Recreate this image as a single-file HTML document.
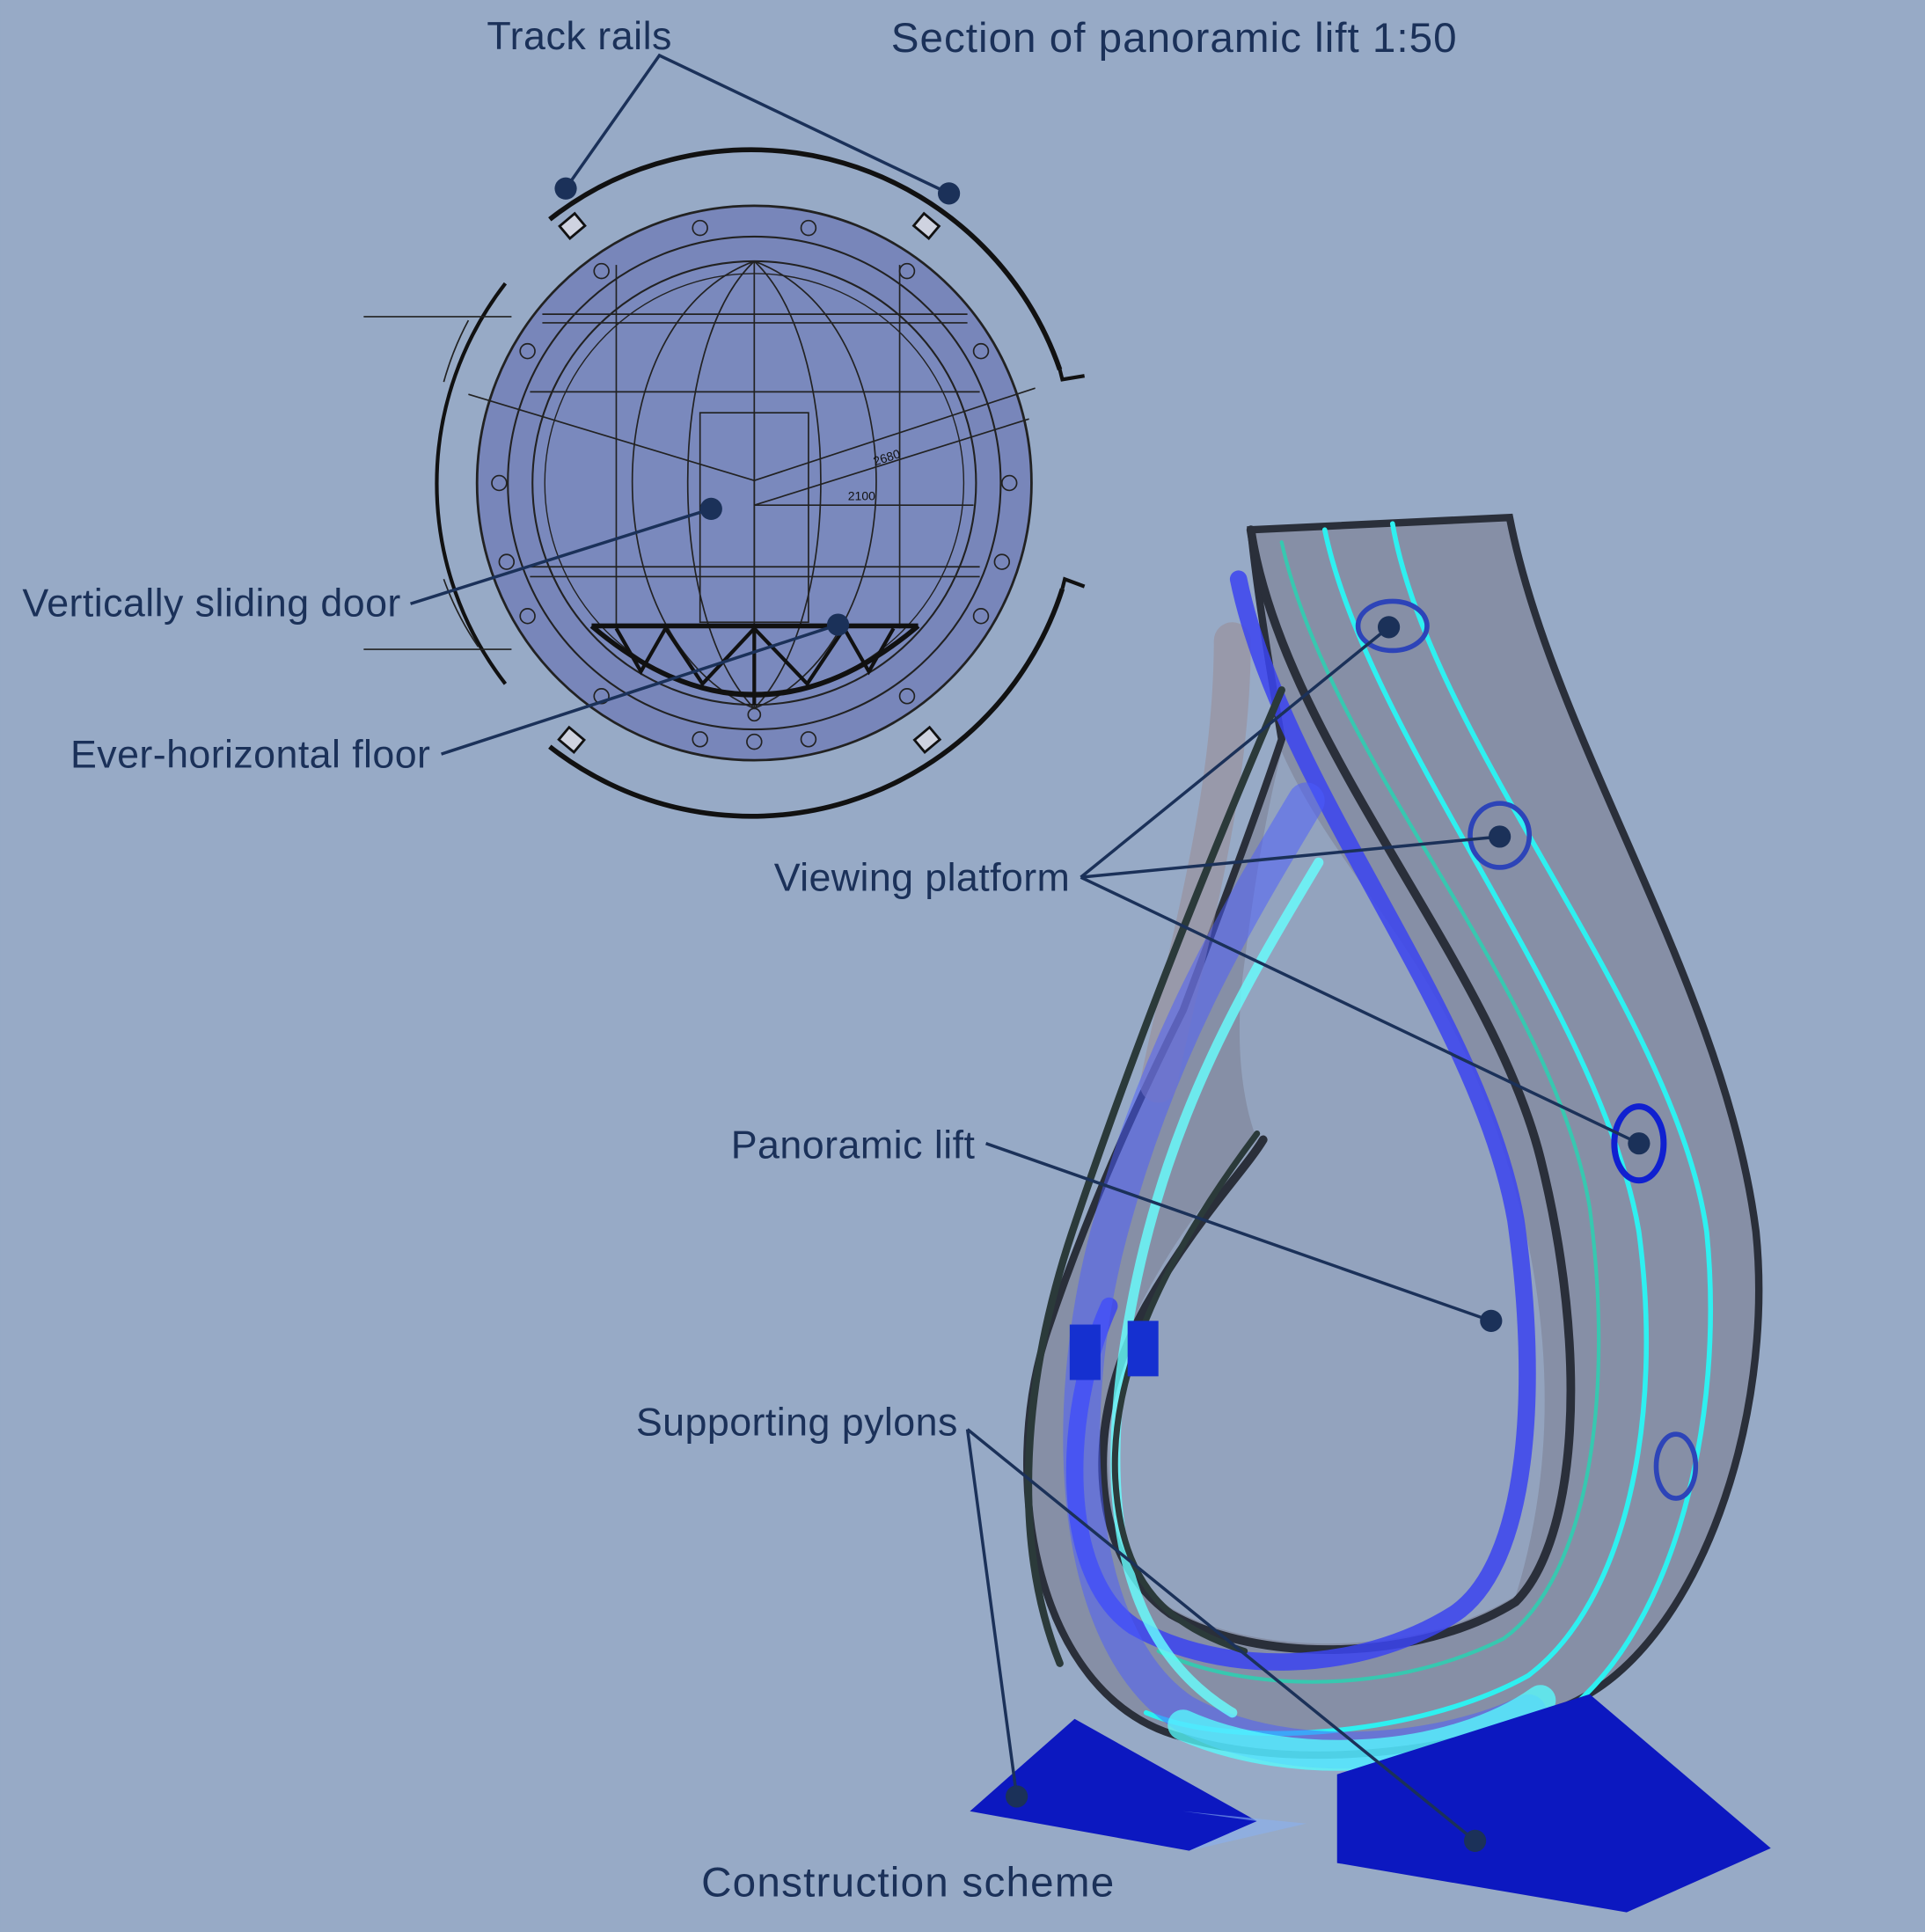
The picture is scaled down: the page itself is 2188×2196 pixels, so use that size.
<!DOCTYPE html>
<html><head><meta charset="utf-8"><style>
html,body{margin:0;padding:0;background:#97aac6;}
svg{display:block}
text{font-family:"Liberation Sans",sans-serif;fill:#1b3159}
</style></head><body>
<svg width="2188" height="2196" viewBox="0 0 1562 1568" xmlns="http://www.w3.org/2000/svg">
<rect width="1562" height="1568" fill="#97aac6"/>
<!-- Section drawing -->
<g>
<path d="M446,178 A265,265 0 0 1 860,300" fill="none" stroke="#111" stroke-width="4"/>
<path d="M860,300 L862,308 L880,305" fill="none" stroke="#111" stroke-width="3"/>
<path d="M862,478 A265,265 0 0 1 446,606" fill="none" stroke="#111" stroke-width="4"/>
<path d="M862,478 L864,470 L880,476" fill="none" stroke="#111" stroke-width="3"/>
<path d="M410,230 A265,265 0 0 0 410,555" fill="none" stroke="#111" stroke-width="3"/>
<circle cx="612" cy="392" r="225" fill="#7886ba" stroke="#222" stroke-width="2"/>
<circle cx="612" cy="392" r="200" fill="none" stroke="#222" stroke-width="1.5"/>
<circle cx="612" cy="392" r="180" fill="#7a89bd" stroke="#222" stroke-width="1.5"/>
<circle cx="612" cy="392" r="170" fill="none" stroke="#222" stroke-width="1"/>
<g fill="none" stroke="#222" stroke-width="1.2">
<circle cx="568" cy="185" r="6"/><circle cx="656" cy="185" r="6"/><circle cx="488" cy="220" r="6"/><circle cx="736" cy="220" r="6"/>
<circle cx="428" cy="285" r="6"/><circle cx="796" cy="285" r="6"/><circle cx="411" cy="456" r="6"/><circle cx="813" cy="456" r="6"/>
<circle cx="428" cy="500" r="6"/><circle cx="796" cy="500" r="6"/><circle cx="488" cy="565" r="6"/><circle cx="736" cy="565" r="6"/>
<circle cx="568" cy="600" r="6"/><circle cx="656" cy="600" r="6"/><circle cx="612" cy="602" r="6"/>
<circle cx="405" cy="392" r="6"/><circle cx="819" cy="392" r="6"/><circle cx="612" cy="580" r="5"/>
<path d="M612,212 C480,260 480,520 612,575 C744,520 744,260 612,212 Z"/>
<path d="M612,212 C540,280 540,500 612,575 M612,212 C684,280 684,500 612,575"/>
<line x1="612" y1="212" x2="612" y2="575"/>
<line x1="440" y1="255" x2="785" y2="255"/><line x1="440" y1="262" x2="785" y2="262"/>
<line x1="430" y1="318" x2="795" y2="318"/><line x1="430" y1="460" x2="795" y2="460"/><line x1="430" y1="468" x2="795" y2="468"/>
<line x1="500" y1="215" x2="500" y2="510"/><line x1="730" y1="215" x2="730" y2="510"/>
<rect x="568" y="335" width="88" height="170"/><line x1="612" y1="335" x2="612" y2="505"/>
<line x1="380" y1="320" x2="612" y2="390"/><line x1="612" y1="390" x2="840" y2="315"/>
<line x1="612" y1="410" x2="790" y2="410"/><line x1="612" y1="410" x2="835" y2="340"/>
<line x1="295" y1="257" x2="415" y2="257"/><line x1="295" y1="527" x2="415" y2="527"/>
<path d="M380,260 A240,240 0 0 0 360,310 M360,470 A240,240 0 0 0 388,525"/>
</g>
<text x="710" y="378" font-size="10" transform="rotate(-18 710 378)" style="fill:#111">2680</text>
<text x="688" y="406" font-size="10" style="fill:#111">2100</text>
<path d="M480,508 L745,508" fill="none" stroke="#111" stroke-width="4"/>
<path d="M480,508 Q612,620 745,508" fill="none" stroke="#111" stroke-width="4"/>
<path d="M500,510 L520,545 L540,510 L570,555 L612,510 L655,555 L685,510 L705,545 L725,510" fill="none" stroke="#111" stroke-width="3"/>
<line x1="612" y1="510" x2="612" y2="572" stroke="#111" stroke-width="3"/>
<g fill="#cfd3e0" stroke="#111" stroke-width="2">
<rect x="456" y="177" width="16" height="13" transform="rotate(-40 464 183)"/>
<rect x="744" y="177" width="16" height="13" transform="rotate(40 752 183)"/>
<rect x="456" y="594" width="16" height="13" transform="rotate(40 464 600)"/>
<rect x="744" y="594" width="16" height="13" transform="rotate(-40 752 600)"/>
</g>
</g>
<!-- 3D structure -->
<g fill="none" stroke-linecap="round">
<path d="M1015,430 L1225,420 C1260,600 1400,800 1425,1000 C1440,1150 1380,1330 1280,1380 C1200,1420 1060,1440 960,1410 C840,1380 810,1200 850,1080 C880,990 920,900 960,820 C990,740 1020,660 1040,600 C1030,540 1020,480 1015,430 Z" fill="#7f8399" fill-opacity="0.7" stroke="#2a2f3a" stroke-width="6"/>
<!-- hollow -->
<path d="M1040,610 C1080,700 1150,760 1200,880 C1250,1000 1275,1150 1230,1295 C1150,1345 1020,1345 950,1305 C890,1260 885,1150 925,1060 C960,990 1000,950 1020,925 C1010,900 1000,850 1010,780 C1020,700 1030,650 1040,610 Z" fill="#97aac6" fill-opacity="0.75" stroke="none"/>
<path d="M1015,430 C1040,600 1210,780 1250,940 C1290,1100 1280,1250 1230,1300 C1150,1350 1020,1350 950,1310 C880,1260 880,1150 930,1060 C970,990 1010,950 1025,925" stroke="#2a2f3a" stroke-width="7"/>
<path d="M1000,520 C1000,650 960,780 940,880" stroke="#9a8e98" stroke-width="30" stroke-opacity="0.6"/>
<path d="M1075,430 C1110,600 1300,820 1330,1000 C1350,1150 1320,1300 1240,1360 C1150,1410 1000,1420 930,1390" stroke="#2ef0f0" stroke-width="4"/>
<path d="M1130,425 C1160,600 1360,820 1385,1000 C1400,1150 1360,1320 1270,1390" stroke="#2ef0f0" stroke-width="4"/>
<path d="M1040,440 C1080,620 1260,800 1290,980 C1310,1130 1290,1280 1220,1330 C1120,1380 1000,1370 940,1340" stroke="#37c8b0" stroke-width="3"/>
<path d="M1005,470 C1040,640 1200,820 1230,990 C1250,1130 1240,1270 1180,1310 C1100,1360 990,1360 920,1320 C860,1280 860,1150 900,1060" stroke="#3b44f0" stroke-width="14" stroke-opacity="0.85"/>
<path d="M1060,650 C1000,750 940,850 900,1000 C860,1150 870,1330 960,1390 C1050,1440 1180,1420 1240,1390" stroke="#4a5cff" stroke-width="30" stroke-opacity="0.5"/>
<path d="M1070,700 C1010,800 950,900 920,1050 C890,1200 900,1330 1000,1390" stroke="#6ff" stroke-width="8" stroke-opacity="0.8"/>
<path d="M960,1400 C1050,1440 1180,1430 1250,1380" stroke="#5ff" stroke-width="25" stroke-opacity="0.75"/>
<path d="M1040,560 C980,700 920,850 870,1000 C830,1120 820,1250 860,1350" stroke="#2b3a3a" stroke-width="6"/>
<path d="M1020,920 C960,1000 900,1100 905,1200 C910,1290 950,1320 1010,1340" stroke="#2b3a3a" stroke-width="5"/>
<ellipse cx="1130" cy="508" rx="28" ry="20" stroke="#2d44b8" stroke-width="4"/>
<ellipse cx="1217" cy="678" rx="24" ry="26" stroke="#2d44b8" stroke-width="4"/>
<ellipse cx="1330" cy="928" rx="20" ry="30" stroke="#1020d0" stroke-width="5"/>
<ellipse cx="1360" cy="1190" rx="16" ry="26" stroke="#2d44b8" stroke-width="4"/>
<rect x="868" y="1075" width="25" height="45" fill="#1530d0" stroke="none"/>
<rect x="915" y="1072" width="25" height="45" fill="#1530d0" stroke="none"/>
</g>
<polygon points="787,1470 872,1395 1020,1478 965,1502" fill="#0c18c0"/>
<polygon points="1085,1440 1290,1375 1437,1500 1320,1552 1085,1512" fill="#0c18c0"/>
<polygon points="960,1470 1020,1478 965,1502 1060,1480" fill="#8ab0f0" opacity="0.6"/>
<!-- Labels & leaders -->
<g stroke="#1b3159" stroke-width="2.5" fill="none">
<path d="M459,153 L535,45 L770,157"/>
<path d="M333,490 L577,413"/>
<path d="M358,612 L680,507"/>
<path d="M877,712 L1127,509 M877,712 L1217,679 M877,712 L1330,928"/>
<path d="M800,928 L1210,1072"/>
<path d="M785,1160 L825,1458 M785,1160 L1197,1494"/>
</g>
<g fill="#1b3159">
<circle cx="459" cy="153" r="9"/><circle cx="770" cy="157" r="9"/><circle cx="577" cy="413" r="9"/><circle cx="680" cy="507" r="9"/>
<circle cx="1127" cy="509" r="9"/><circle cx="1217" cy="679" r="9"/><circle cx="1330" cy="928" r="9"/><circle cx="1210" cy="1072" r="9"/>
<circle cx="825" cy="1458" r="9"/><circle cx="1197" cy="1494" r="9"/>
</g>
<g>
<text x="395" y="40" font-size="32" textLength="150">Track rails</text>
<text x="723" y="42" font-size="34" textLength="459">Section of panoramic lift 1:50</text>
<text x="18" y="500" font-size="32" textLength="307">Vertically sliding door</text>
<text x="57" y="623" font-size="32" textLength="292">Ever-horizontal floor</text>
<text x="628" y="723" font-size="32" textLength="240">Viewing platform</text>
<text x="593" y="940" font-size="32" textLength="198">Panoramic lift</text>
<text x="516" y="1165" font-size="32" textLength="261">Supporting pylons</text>
<text x="569" y="1539" font-size="34" textLength="335">Construction scheme</text>
</g>
</svg>
</body></html>
